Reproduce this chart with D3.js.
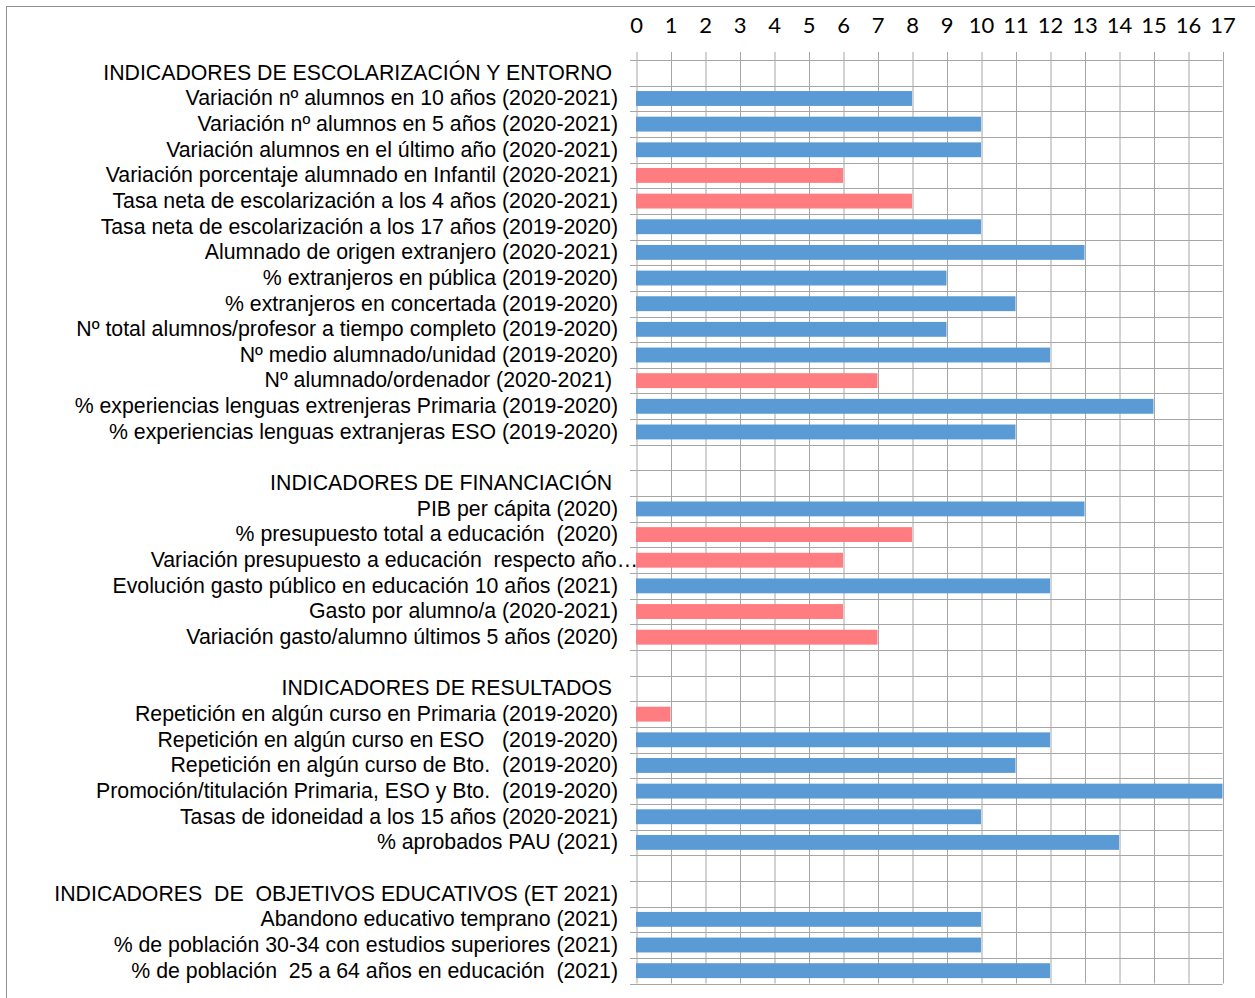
<!DOCTYPE html>
<html>
<head>
<meta charset="utf-8">
<script src="https://cdn.jsdelivr.net/npm/d3@7"></script>
<style>
  html, body { margin: 0; padding: 0; background: #fff; }
  svg { display: block; }
  .cat text { white-space: pre; }
</style>
</head>
<body>
<svg id="chart" width="1255" height="998"></svg>
<script>
const categories = [
  "INDICADORES DE ESCOLARIZACIÓN Y ENTORNO ",
  "Variación nº alumnos en 10 años (2020-2021)",
  "Variación nº alumnos en 5 años (2020-2021)",
  "Variación alumnos en el último año (2020-2021)",
  "Variación porcentaje alumnado en Infantil (2020-2021)",
  "Tasa neta de escolarización a los 4 años (2020-2021)",
  "Tasa neta de escolarización a los 17 años (2019-2020)",
  "Alumnado de origen extranjero (2020-2021)",
  "% extranjeros en pública (2019-2020)",
  "% extranjeros en concertada (2019-2020)",
  "Nº total alumnos/profesor a tiempo completo (2019-2020)",
  "Nº medio alumnado/unidad (2019-2020)",
  "Nº alumnado/ordenador (2020-2021) ",
  "% experiencias lenguas extrenjeras Primaria (2019-2020)",
  "% experiencias lenguas extranjeras ESO (2019-2020)",
  "",
  "INDICADORES DE FINANCIACIÓN ",
  "PIB per cápita (2020)",
  "% presupuesto total a educación  (2020)",
  "Variación presupuesto a educación  respecto año…",
  "Evolución gasto público en educación 10 años (2021)",
  "Gasto por alumno/a (2020-2021)",
  "Variación gasto/alumno últimos 5 años (2020)",
  "",
  "INDICADORES DE RESULTADOS ",
  "Repetición en algún curso en Primaria (2019-2020)",
  "Repetición en algún curso en ESO   (2019-2020)",
  "Repetición en algún curso de Bto.  (2019-2020)",
  "Promoción/titulación Primaria, ESO y Bto.  (2019-2020)",
  "Tasas de idoneidad a los 15 años (2020-2021)",
  "% aprobados PAU (2021)",
  "",
  "INDICADORES  DE  OBJETIVOS EDUCATIVOS (ET 2021)",
  "Abandono educativo temprano (2021)",
  "% de población 30-34 con estudios superiores (2021)",
  "% de población  25 a 64 años en educación  (2021)"
];
const values = [
  null, 8, 10, 10, 6, 8, 10, 13, 9, 11, 9, 12, 7, 15, 11,
  null, null, 13, 8, 6, 12, 6, 7,
  null, null, 1, 12, 11, 17, 10, 14,
  null, null, 10, 10, 12
];
const groups = [
  "", "b", "b", "b", "r", "r", "b", "b", "b", "b", "b", "b", "r", "b", "b",
  "", "", "b", "r", "r", "b", "r", "r",
  "", "", "r", "b", "b", "b", "b", "b",
  "", "", "b", "b", "b"
];
const tickValues = d3.range(0, 18);

const palette = { b: "#5B9BD5", r: "#FF7C80" };
const svg = d3.select("#chart");

// outer border (cropped on right and bottom)
svg.append("rect").attr("x", 6.5).attr("y", 6.5).attr("width", 1300).attr("height", 1100)
  .attr("fill", "none").attr("stroke", "#8f8f8f").attr("stroke-width", 1);

const x0 = 636, x1 = 1222.5, yTop = 60, yBot = 983.5;
const x = d3.scaleLinear().domain([0, 17]).range([x0, x1]);
const y = d3.scaleBand().domain(d3.range(categories.length)).range([yTop, yBot])
  .paddingInner(0.42).paddingOuter(0.21);

const gridColor = "#a6a6a6";

// horizontal gridlines at band boundaries
const bounds = d3.range(categories.length + 1).map(i => yTop + i * y.step());
svg.append("g").selectAll("line").data(bounds).join("line")
  .attr("x1", 630).attr("x2", x1)
  .attr("y1", d => Math.round(d) + 0.5).attr("y2", d => Math.round(d) + 0.5)
  .attr("stroke", gridColor).attr("stroke-width", 1);

// vertical gridlines + top tick labels
const xAxis = d3.axisTop(x).tickValues(tickValues).tickFormat(d3.format("d"))
  .tickSize(-(yBot - 52)).tickPadding(19);
const gx = svg.append("g").attr("transform", "translate(0,52)").call(xAxis);
gx.select(".domain").remove();
gx.selectAll(".tick line").attr("stroke", gridColor).attr("stroke-width", 1)
  .attr("transform", "translate(0.5,0)");
gx.selectAll(".tick text").attr("fill", "#000")
  .style("font-family", "Lato, 'Open Sans', sans-serif").style("font-size", "22px");

// bars
svg.append("g").selectAll("rect")
  .data(values.map((v, i) => ({ v, i })).filter(d => d.v !== null))
  .join("rect")
  .attr("x", x(0))
  .attr("y", d => y(d.i))
  .attr("width", d => x(d.v) - x(0))
  .attr("height", y.bandwidth())
  .attr("fill", d => palette[groups[d.i]]);

// category labels
const yAxis = d3.axisLeft(y).tickFormat(i => categories[i]).tickSize(0).tickPadding(18);
const gy = svg.append("g").attr("class", "cat").attr("transform", `translate(${x0},0)`).call(yAxis);
gy.select(".domain").remove();
gy.selectAll(".tick text").attr("fill", "#000")
  .style("font-family", "'Liberation Sans', Arial, sans-serif").style("font-size", "21.3px");
// the truncated label overflows towards the plot, as in the original
gy.selectAll(".tick text").filter(i => categories[i].endsWith("…")).attr("x", 2);
</script>
</body>
</html>
